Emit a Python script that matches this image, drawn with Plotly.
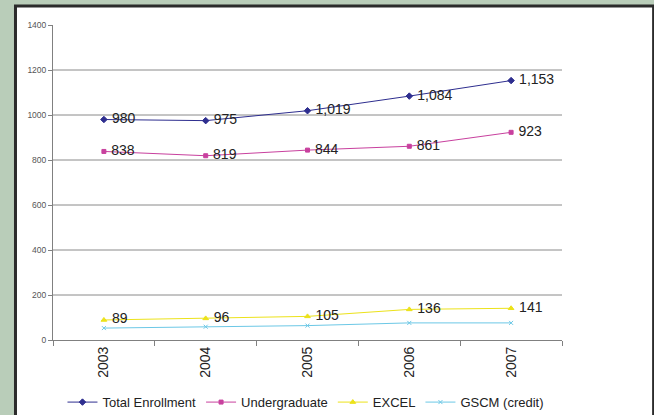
import plotly.graph_objects as go

years = ["2003", "2004", "2005", "2006", "2007"]
total_enrollment = [980, 975, 1019, 1084, 1153]
undergraduate = [838, 819, 844, 861, 923]
excel = [89, 96, 105, 136, 141]
gscm_credit = [53, 59, 64, 76, 76]

y_ticks = [0, 200, 400, 600, 800, 1000, 1200, 1400]
grid_values = [200, 400, 600, 800, 1000, 1200]

series = [
    ("Total Enrollment", total_enrollment, "#2e2e8f", "diamond", 5, True),
    ("Undergraduate", undergraduate, "#c8409e", "square", 4, True),
    ("EXCEL", excel, "#ece21a", "triangle-up", 5, True),
    ("GSCM (credit)", gscm_credit, "#6cc8e6", "x-thin-open", 4, False),
]

FONT = "Liberation Sans, Arial, sans-serif"

fig = go.Figure()
for name, vals, color, sym, size, labels in series:
    fig.add_trace(go.Scatter(
        x=years, y=vals, name=name,
        mode="lines+markers+text" if labels else "lines+markers",
        line=dict(color=color, width=1),
        marker=dict(symbol=sym, size=size, color=color, line=dict(color=color, width=1)),
        texttemplate=" %{y:,}" if labels else None,
        textposition="middle right",
        textfont=dict(family=FONT, size=14, color="#222222"),
        cliponaxis=False,
    ))

shapes = [dict(type="rect", xref="paper", yref="paper",
               x0=-0.0737, x1=1.18, y0=1.06, y1=-0.5,
               fillcolor="white", line=dict(color="#2b2b2b", width=3),
               layer="below")]
for g in grid_values:
    shapes.append(dict(type="line", xref="paper", yref="y", x0=0, x1=1, y0=g, y1=g,
                       line=dict(color="#8a8a8a", width=1), layer="below"))

fig.update_layout(
    width=654, height=415,
    margin=dict(l=53, r=92, t=25, b=75, autoexpand=False),
    paper_bgcolor="#b9cdb9",
    plot_bgcolor="rgba(0,0,0,0)",
    shapes=shapes,
    showlegend=True,
    legend=dict(orientation="h", x=0.497, xanchor="center",
                yref="container", y=0.031, yanchor="middle",
                font=dict(family=FONT, size=13, color="#222222"),
                bgcolor="rgba(0,0,0,0)", itemwidth=30, tracegroupgap=0),
    font=dict(family=FONT),
)
fig.update_xaxes(
    type="category", range=[-0.5, 4.5], showgrid=False, automargin=False,
    showline=True, linecolor="#808080", linewidth=1,
    ticks="outside", tickson="boundaries", ticklen=5, tickcolor="#808080",
    tickangle=-90, tickfont=dict(family=FONT, size=14, color="#222222"),
)
fig.update_yaxes(
    range=[0, 1400], tickvals=y_ticks, showgrid=False, zeroline=False, automargin=False,
    showline=True, linecolor="#808080", linewidth=1,
    ticks="outside", ticklen=4, tickcolor="#808080",
    tickfont=dict(family=FONT, size=8.5, color="#555555"),
)

fig.write_html(
    "out.html",
    config={"displayModeBar": False},
    post_script="document.body.style.margin='0';document.body.style.overflow='hidden';",
)
